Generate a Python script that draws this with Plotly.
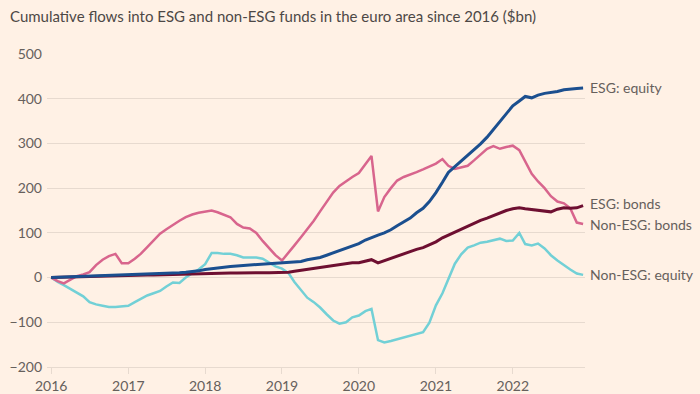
import plotly.graph_objects as go
import pandas as pd

dates = pd.date_range("2016-01-01", "2022-12-01", freq="MS")

esg_equity = [
    0, 0.5, 1, 1.5, 2, 2.5, 3, 3.5, 4, 4.5, 5, 5.5,
    6, 6.5, 7, 7.5, 8, 8.5, 9, 10, 11, 12, 13, 15,
    18, 20, 22, 24, 25, 26, 27, 28, 29, 30, 31, 32,
    32, 33, 34, 36, 40, 43, 45, 50, 55, 60, 65, 70,
    76, 84, 90, 95, 100, 107, 116, 125, 133, 145, 155, 170,
    190, 213, 235, 248, 260, 273, 286, 299, 314, 331, 349, 366,
    384, 395, 405, 402, 408, 412, 414, 416, 420, 422, 423, 424,
]
esg_bonds = [
    0, 0.5, 1, 1.5, 2, 2.5, 3, 3, 3.5, 4, 4, 4.5,
    5, 5, 5.5, 6, 6, 6.5, 7, 7.5, 8, 8.5, 9, 9,
    9.5, 10, 10, 10, 10.5, 10.5, 11, 11, 11, 11, 11, 11,
    11, 12, 14, 16, 18, 20, 22, 25, 27, 29, 31, 33,
    33, 36, 40, 33, 38, 43, 49, 53, 58, 63, 67, 73,
    80, 89, 95, 101, 109, 115, 122, 128, 133, 139, 145, 150,
    154, 156, 154, 152, 150, 149, 147, 153, 156, 155, 156, 161,
]
non_esg_bonds = [
    0, -8, -13, -5, 3, 7, 12, 28, 40, 48, 53, 32,
    32, 42, 53, 68, 83, 98, 108, 118, 127, 135, 141, 145,
    147, 150, 146, 140, 135, 120, 112, 110, 100, 82, 65, 50,
    38, 55, 72, 90, 108, 127, 148, 170, 190, 205, 216, 225,
    234, 255, 272, 148, 180, 200, 217, 225, 230, 236, 242, 248,
    255, 265, 250, 243, 247, 250, 262, 275, 288, 294, 288, 292,
    295, 285, 260, 232, 215, 200, 182, 170, 166, 155, 123, 120,
]
non_esg_equity = [
    0, -10, -17, -25, -33, -42, -55, -60, -63, -66, -66, -65,
    -63, -55, -47, -40, -35, -30, -20, -11, -12, 0, 10, 18,
    30, 55, 55, 53, 53, 50, 45, 45, 45, 42, 33, 25,
    20, 10, -10, -28, -45, -55, -67, -82, -96, -103, -100, -89,
    -85, -75, -70, -140, -145, -142, -138, -134, -130, -127, -122, -101,
    -62, -35, -5, 31, 52, 67, 72, 78, 80, 83, 87, 82,
    83, 100, 75, 72, 76, 65, 50, 38, 27, 18, 9, 6,
]

series_names = ["Non-ESG: equity", "Non-ESG: bonds", "ESG: bonds", "ESG: equity"]
series_values = [non_esg_equity, non_esg_bonds, esg_bonds, esg_equity]
series_colors = ["#72d0d6", "#d8658d", "#6e0f31", "#1b4f8f"]
series_widths = [2.5, 2.5, 3, 3]

year_ticks = ["2016-01-01", "2017-01-01", "2018-01-01", "2019-01-01",
              "2020-01-01", "2021-01-01", "2022-01-01"]
year_labels = ["2016", "2017", "2018", "2019", "2020", "2021", "2022"]
y_ticks = [-200, -100, 0, 100, 200, 300, 400, 500]

BG = "#fff1e5"
GRID = "#e7dacf"
TEXT = "#66605c"
FONT = "Lato"

fig = go.Figure()
for name, vals, col, w in zip(series_names, series_values, series_colors, series_widths):
    fig.add_trace(go.Scatter(
        x=dates, y=vals, mode="lines", name=name,
        line=dict(color=col, width=w), hoverinfo="skip",
    ))

label_shift = {"ESG: equity": 0, "ESG: bonds": 2, "Non-ESG: bonds": -1, "Non-ESG: equity": 0}
for name, vals in zip(series_names, series_values):
    fig.add_annotation(
        x=dates[-1], y=vals[-1], text=name, showarrow=False,
        xanchor="left", yanchor="middle", xshift=5, yshift=label_shift[name],
        font=dict(family=FONT, size=14, color=TEXT),
    )

fig.update_layout(
    width=700, height=394,
    paper_bgcolor=BG, plot_bgcolor=BG,
    margin=dict(l=47, r=115, t=54, b=27, autoexpand=False),
    showlegend=False,
    title=dict(
        text="Cumulative flows into ESG and non-ESG funds in the euro area since 2016 ($bn)",
        x=10/700, xref="container", xanchor="left",
        y=1 - 17/394, yref="container", yanchor="middle",
        font=dict(family=FONT, size=15, color="#4d4845"),
    ),
    font=dict(family=FONT, size=14, color=TEXT),
)

fig.update_xaxes(
    type="date", automargin=False,
    range=["2015-12-12", "2022-12-10"],
    tickvals=year_ticks, ticktext=year_labels,
    showgrid=False, zeroline=False,
    showline=True, linecolor=GRID, linewidth=1,
    ticks="outside", ticklen=6, tickcolor=GRID, tickwidth=1,
    tickfont=dict(family=FONT, size=14, color=TEXT),
)
fig.update_yaxes(
    automargin=False,
    range=[-200, 500],
    tickvals=y_ticks,
    showgrid=True, gridcolor=GRID, gridwidth=1,
    zeroline=False, showline=False, ticks="",
    ticklabelstandoff=4,
    tickfont=dict(family=FONT, size=14, color=TEXT),
)

fig.write_html(
    "out.html",
    config={"displayModeBar": False, "staticPlot": True},
    post_script="document.body.style.margin='0';document.body.style.overflow='hidden';",
)
